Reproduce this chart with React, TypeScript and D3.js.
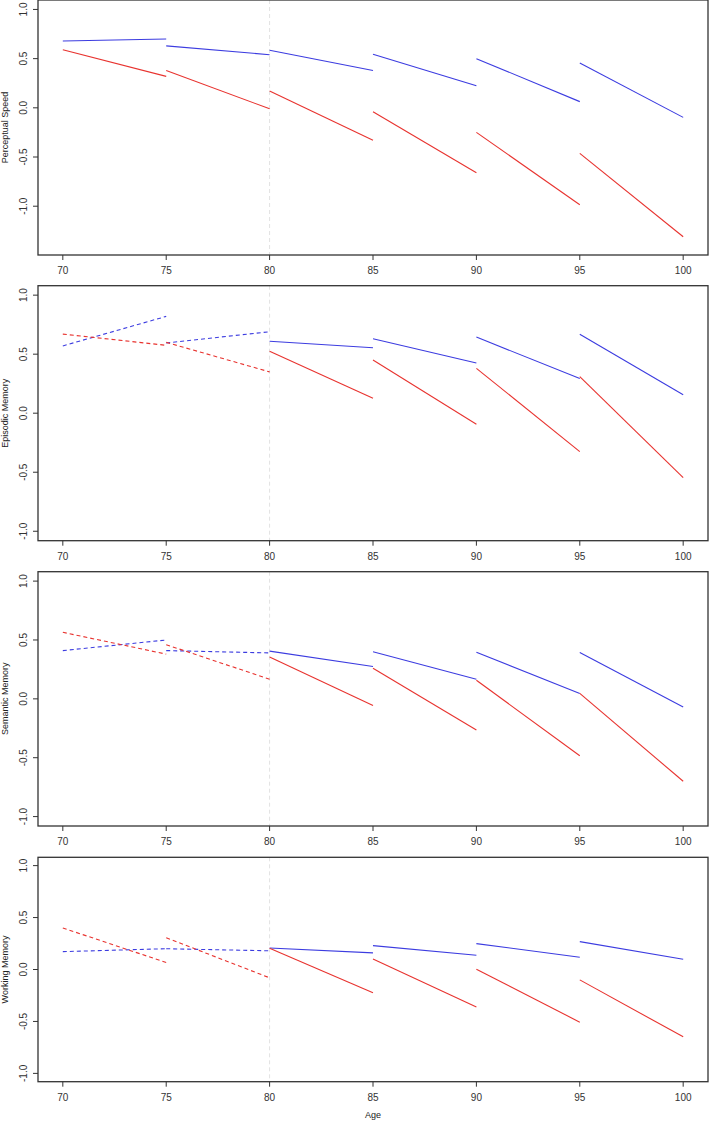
import React from "react";
import * as d3 from "d3";

// cohort start ages; each segment runs 5 years
const cohortStarts = [70, 75, 80, 85, 90, 95];
const xTicks = [70, 75, 80, 85, 90, 95, 100];
const yTicks = [1.0, 0.5, 0.0, -0.5, -1.0];

// [value at start, value at end] per cohort
const psBlue = [[0.68, 0.70], [0.63, 0.54], [0.585, 0.38], [0.545, 0.225], [0.50, 0.063], [0.456, -0.097]];
const psRed = [[0.59, 0.32], [0.38, -0.01], [0.17, -0.33], [-0.04, -0.66], [-0.25, -0.985], [-0.463, -1.31]];

const emBlue = [[0.57, 0.82], [0.595, 0.69], [0.61, 0.555], [0.63, 0.425], [0.645, 0.293], [0.668, 0.157]];
const emRed = [[0.67, 0.575], [0.60, 0.35], [0.525, 0.127], [0.45, -0.093], [0.38, -0.325], [0.31, -0.545]];

const smBlue = [[0.41, 0.50], [0.41, 0.39], [0.405, 0.275], [0.40, 0.167], [0.396, 0.046], [0.393, -0.07]];
const smRed = [[0.565, 0.38], [0.46, 0.167], [0.356, -0.056], [0.26, -0.265], [0.158, -0.483], [0.046, -0.70]];

const wmBlue = [[0.172, 0.20], [0.20, 0.18], [0.207, 0.16], [0.23, 0.137], [0.249, 0.118], [0.268, 0.099]];
const wmRed = [[0.40, 0.067], [0.306, -0.08], [0.204, -0.224], [0.10, -0.36], [0.003, -0.507], [-0.10, -0.648]];

const panels = [
  { label: "Perceptual Speed", blue: psBlue, red: psRed, ylim: [-1.4, 1.0], dashedEarly: false, top: 0, bottom: 255 },
  { label: "Episodic Memory", blue: emBlue, red: emRed, ylim: [-1.0, 1.0], dashedEarly: true, top: 285.7, bottom: 540.7 },
  { label: "Semantic Memory", blue: smBlue, red: smRed, ylim: [-1.0, 1.0], dashedEarly: true, top: 571.7, bottom: 826 },
  { label: "Working Memory", blue: wmBlue, red: wmRed, ylim: [-1.0, 1.0], dashedEarly: true, top: 857.3, bottom: 1081.7 },
];

const BLUE = "#3c3ce0";
const RED = "#e8332f";
const FONT = "Liberation Sans, Arial, sans-serif";

export default function App() {
  const left = 38;
  const right = 708;
  // R style 4% axis extension
  const x = d3.scaleLinear().domain([68.8, 101.2]).range([left, right]);

  return (
    <svg width={709} height={1122} style={{ position: "absolute", left: 0, top: 0, background: "#fff" }}>
      {panels.map((p, pi) => {
        const pad = (p.ylim[1] - p.ylim[0]) * 0.04;
        const y = d3.scaleLinear().domain([p.ylim[0] - pad, p.ylim[1] + pad]).range([p.bottom, p.top]);
        const line = d3.line<[number, number]>().x((d) => x(d[0])).y((d) => y(d[1]));
        const midY = (p.top + p.bottom) / 2;
        return (
          <g key={pi}>
            {/* reference line at 80 */}
            <line x1={x(80)} x2={x(80)} y1={p.top} y2={p.bottom} stroke="#e2e2e2" strokeDasharray="4,3" strokeWidth={1} />
            {cohortStarts.map((a, i) => {
              const dashed = p.dashedEarly && a < 80;
              return (
                <g key={i}>
                  <path d={line([[a, p.blue[i][0]], [a + 5, p.blue[i][1]]]) || ""} stroke={BLUE} strokeWidth={1.1} fill="none" strokeDasharray={dashed ? "4,3" : undefined} />
                  <path d={line([[a, p.red[i][0]], [a + 5, p.red[i][1]]]) || ""} stroke={RED} strokeWidth={1.1} fill="none" strokeDasharray={dashed ? "4,3" : undefined} />
                </g>
              );
            })}
            <rect x={left} y={p.top} width={right - left} height={p.bottom - p.top} fill="none" stroke="#333" strokeWidth={1.3} />
            {/* x axis */}
            {xTicks.map((t) => (
              <g key={t}>
                <line x1={x(t)} x2={x(t)} y1={p.bottom} y2={p.bottom + 5} stroke="#333" />
                <text x={x(t)} y={p.bottom + 19} textAnchor="middle" fontSize={10} fontFamily={FONT} fill="#333">{t}</text>
              </g>
            ))}
            {/* y axis */}
            {yTicks.map((t) => (
              <g key={t}>
                <line x1={left} x2={left - 5} y1={y(t)} y2={y(t)} stroke="#333" />
                <text transform={`translate(${left - 11},${y(t)}) rotate(-90)`} textAnchor="middle" fontSize={10} fontFamily={FONT} fill="#333">{t.toFixed(1)}</text>
              </g>
            ))}
            <text transform={`translate(8,${midY}) rotate(-90)`} textAnchor="middle" fontSize={9} fontFamily={FONT} fill="#222">{p.label}</text>
          </g>
        );
      })}
      <text x={x(85)} y={1118} textAnchor="middle" fontSize={9} fontFamily={FONT} fill="#222">Age</text>
    </svg>
  );
}
